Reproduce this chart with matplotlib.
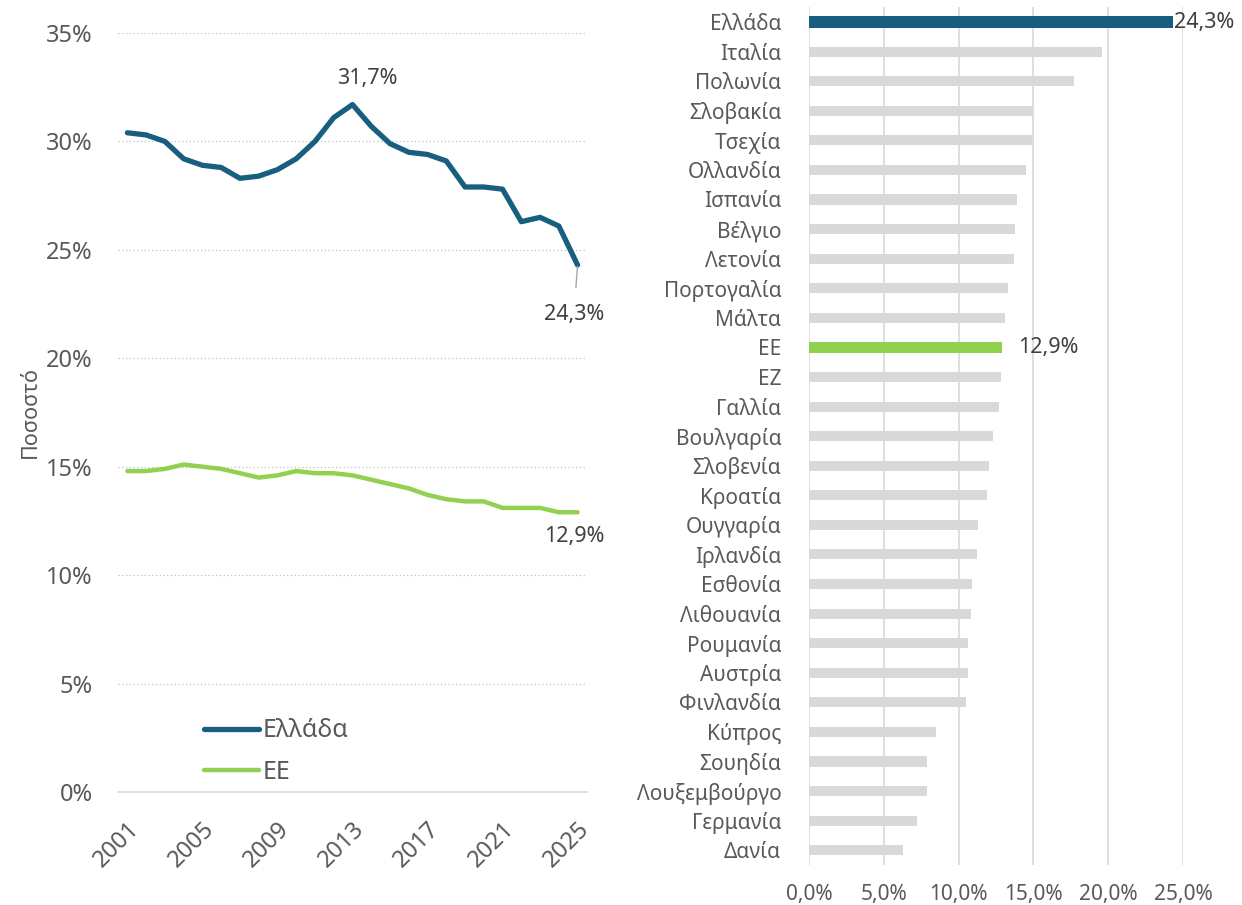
import numpy as np
import matplotlib
matplotlib.use("Agg")
import matplotlib.pyplot as plt
from matplotlib.ticker import FuncFormatter

plt.rcParams['font.family'] = ['Noto Sans', 'DejaVu Sans']

# Δεδομένα: χρονοσειρά
years = list(range(2001, 2026))
greece = [30.4, 30.3, 30.0, 29.2, 28.9, 28.8, 28.3, 28.4, 28.7, 29.2, 30.0, 31.1, 31.7,
          30.7, 29.9, 29.5, 29.4, 29.1, 27.9, 27.9, 27.8, 26.3, 26.5, 26.1, 24.3]
eu = [14.8, 14.8, 14.9, 15.1, 15.0, 14.9, 14.7, 14.5, 14.6, 14.8, 14.7, 14.7, 14.6,
      14.4, 14.2, 14.0, 13.7, 13.5, 13.4, 13.4, 13.1, 13.1, 13.1, 12.9, 12.9]

# Δεδομένα: χώρες
countries = ["Ελλάδα", "Ιταλία", "Πολωνία", "Σλοβακία", "Τσεχία", "Ολλανδία", "Ισπανία",
             "Βέλγιο", "Λετονία", "Πορτογαλία", "Μάλτα", "ΕΕ", "ΕΖ", "Γαλλία", "Βουλγαρία",
             "Σλοβενία", "Κροατία", "Ουγγαρία", "Ιρλανδία", "Εσθονία", "Λιθουανία",
             "Ρουμανία", "Αυστρία", "Φινλανδία", "Κύπρος", "Σουηδία", "Λουξεμβούργο",
             "Γερμανία", "Δανία"]
values = [24.3, 19.6, 17.7, 15.0, 14.9, 14.5, 13.9, 13.8, 13.7, 13.3, 13.1, 12.9, 12.8,
          12.7, 12.3, 12.0, 11.9, 11.3, 11.2, 10.9, 10.8, 10.6, 10.6, 10.5, 8.5, 7.9, 7.9,
          7.2, 6.3]

BLUE = "#175E7F"
GREEN = "#92D050"
GRAY = "#D9D9D9"
TXT = "#595959"
ANN = "#404040"

fig = plt.figure(figsize=(12.42, 9.05), dpi=100)

# ---- Αριστερό γράφημα ----
ax1 = fig.add_axes([0.095, 0.1249, 0.3776, 0.8386])
ax1.plot(years, greece, color=BLUE, lw=3.8, label="Ελλάδα", solid_capstyle='round')
ax1.plot(years, eu, color=GREEN, lw=3.2, label="ΕΕ", solid_capstyle='round')
ax1.set_xlim(2000.5, 2025.5)
ax1.set_ylim(0, 35)
ax1.set_yticks(np.arange(0, 36, 5))
ax1.yaxis.set_major_formatter(FuncFormatter(lambda v, p: f"{int(v)}%"))
ax1.set_xticks(years[::4])
ax1.tick_params(axis='both', length=0, colors=TXT, labelsize=17)
ax1.tick_params(axis='y', pad=18)
ax1.tick_params(axis='x', pad=18)
for lab in ax1.get_xticklabels():
    lab.set_rotation(45)
    lab.set_ha('right')
    lab.set_rotation_mode('anchor')
ax1.grid(axis='y', color="#BFBFBF", linestyle=(0, (1, 2)), lw=0.9)
for s in ['left', 'right', 'top']:
    ax1.spines[s].set_visible(False)
ax1.spines['bottom'].set_color(GRAY)
ax1.spines['bottom'].set_linewidth(1.2)
ax1.set_ylabel("Ποσοστό", color=TXT, fontsize=15.5, labelpad=4)

ax1.annotate("31,7%", xy=(2013, 31.7), xytext=(2013.8, 32.9), ha='center', va='center',
             fontsize=15.5, color=ANN)
ax1.annotate("24,3%", xy=(2025, 24.3), xytext=(2024.8, 22.0), ha='center', va='center',
             fontsize=15.5, color=ANN,
             arrowprops=dict(arrowstyle='-', color="#A6A6A6", lw=1, shrinkA=10, shrinkB=1))
ax1.text(2024.8, 11.8, "12,9%", ha='center', va='center', fontsize=15.5, color=ANN)

leg = ax1.legend(loc='lower left', bbox_to_anchor=(0.135, -0.02), frameon=False,
                 fontsize=18, handlelength=2.2, labelspacing=0.65, handletextpad=0.15)
for t in leg.get_texts():
    t.set_color(TXT)

# ---- Δεξί γράφημα ----
ax2 = fig.add_axes([0.6514, 0.0442, 0.3011, 0.9478])
ypos = np.arange(len(countries))
colors = [BLUE if c == "Ελλάδα" else GREEN if c == "ΕΕ" else GRAY for c in countries]
heights = [0.38 if c in ("Ελλάδα", "ΕΕ") else 0.34 for c in countries]
ax2.barh(ypos, values, color=colors, height=heights, zorder=3)
ax2.set_ylim(len(countries) - 0.5, -0.5)
ax2.set_xlim(0, 25)
ax2.set_xticks(np.arange(0, 26, 5))
ax2.xaxis.set_major_formatter(FuncFormatter(lambda v, p: f"{v:.1f}%".replace(".", ",")))
ax2.set_yticks(ypos)
ax2.set_yticklabels(countries)
ax2.tick_params(axis='both', length=0, colors=TXT, labelsize=15)
ax2.tick_params(axis='y', pad=20)
ax2.tick_params(axis='x', pad=14)
ax2.grid(axis='x', color=GRAY, lw=1.2, zorder=0)
for s in ax2.spines.values():
    s.set_visible(False)

for c, v in zip(countries, values):
    if c == "Ελλάδα":
        ax2.text(v + 0.1, countries.index(c), f"{v:.1f}%".replace(".", ","),
                 va='center', ha='left', fontsize=15.5, color=ANN, clip_on=False)
    elif c == "ΕΕ":
        ax2.text(v + 1.1, countries.index(c), f"{v:.1f}%".replace(".", ","),
                 va='center', ha='left', fontsize=15.5, color=ANN)

fig.savefig("out.png", dpi=100)
